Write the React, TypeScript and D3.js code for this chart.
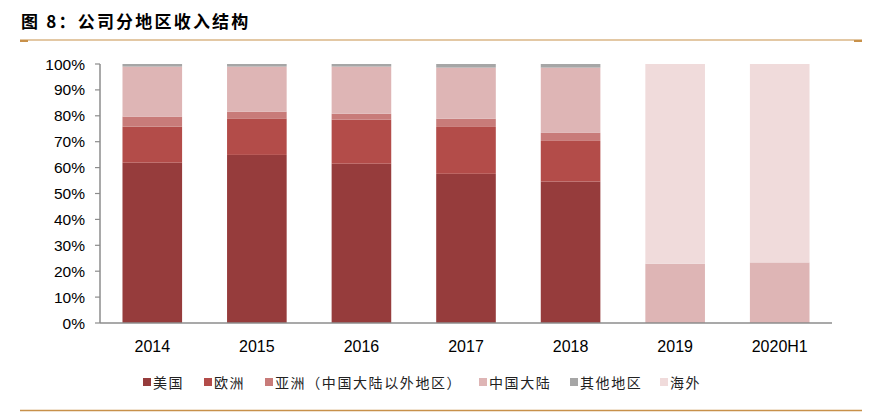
import React from "react";
import * as d3 from "d3";

const years = ["2014", "2015", "2016", "2017", "2018", "2019", "2020H1"];
const usa = [61.9, 64.9, 61.5, 57.6, 54.6, 0, 0];
const europe = [13.9, 14.1, 17.0, 18.1, 15.7, 0, 0];
const asiaExChina = [3.9, 2.6, 2.3, 3.2, 3.1, 0, 0];
const chinaMainland = [19.3, 17.4, 18.2, 19.7, 25.2, 22.9, 23.4];
const otherRegions = [1.0, 1.0, 1.0, 1.4, 1.4, 0, 0];
const overseas = [0, 0, 0, 0, 0, 77.1, 76.6];
const seriesNames = ["美国", "欧洲", "亚洲（中国大陆以外地区）", "中国大陆", "其他地区", "海外"];
const yTicks = [0, 10, 20, 30, 40, 50, 60, 70, 80, 90, 100];
const title = "图 8：公司分地区收入结构";

const colors = ["#963C3C", "#B34C49", "#C87B79", "#DEB5B5", "#A6A6A6", "#F0DBDB"];
const legendX = [143, 204, 265, 479, 570, 660];

export default function App() {
  const W = 882, H = 413;
  const left = 100, right = 832, top = 64, bottom = 323;
  const keys = ["us", "eu", "asia", "cn", "other", "ovs"];
  const cols = [usa, europe, asiaExChina, chinaMainland, otherRegions, overseas];
  const rows = years.map((y, i) => {
    const r: any = { year: y };
    keys.forEach((k, j) => (r[k] = cols[j][i]));
    return r;
  });
  const stacked = d3.stack().keys(keys)(rows);
  const x = d3.scaleBand().domain(years).range([left, right]).paddingInner(0.43).paddingOuter(0.215);
  const y = d3.scaleLinear().domain([0, 100]).range([bottom, top]);
  const axisColor = "#8C8C8C";
  const gold = "#C8914A";

  return (
    <svg width={W} height={H} style={{ position: "absolute", left: 0, top: 0, background: "#fff" }}>
      <text x={21} y={28} fontFamily="'Noto Sans CJK SC', sans-serif" fontWeight={700} fontSize={17} letterSpacing={2.2} fill="#000">
        {title}
      </text>
      <line x1={20} x2={862} y1={40} y2={40} stroke={gold} strokeWidth={1.2} />
      <rect x={20} y={40} width={8} height={2} fill={gold} />
      <rect x={854} y={40} width={8} height={2} fill={gold} />
      <line x1={20} x2={862} y1={410.5} y2={410.5} stroke={gold} strokeWidth={1.5} />

      {stacked.map((s, si) => (
        <g key={si} fill={colors[si]}>
          {s.map((d, i) =>
            d[1] - d[0] > 0 ? (
              <rect
                key={i}
                x={x(years[i])}
                width={x.bandwidth()}
                y={y(d[1])}
                height={y(d[0]) - y(d[1])}
              />
            ) : null
          )}
        </g>
      ))}

      <line x1={left} x2={left} y1={top} y2={bottom} stroke={axisColor} strokeWidth={1.5} />
      {yTicks.map((t) => (
        <g key={t}>
          <line x1={left - 5} x2={left} y1={y(t)} y2={y(t)} stroke={axisColor} strokeWidth={1.2} />
          <text x={85} y={y(t) + 5.5} textAnchor="end" fontFamily="'Liberation Sans', Arial, sans-serif" fontSize={15.5} fill="#000">
            {t + "%"}
          </text>
        </g>
      ))}
      <line x1={left} x2={right} y1={bottom} y2={bottom} stroke={axisColor} strokeWidth={1.5} />
      {years.map((yr) => (
        <text key={yr} x={(x(yr) as number) + x.bandwidth() / 2} y={352} textAnchor="middle" fontFamily="'Liberation Sans', Arial, sans-serif" fontSize={16} fill="#000">
          {yr}
        </text>
      ))}

      {seriesNames.map((n, i) => (
        <g key={n}>
          <rect x={legendX[i]} y={378} width={8} height={8} fill={colors[i]} />
          <text x={legendX[i] + 10} y={388} fontFamily="'Noto Sans CJK SC', serif" fontSize={14} letterSpacing={1.6} fill="#222">
            {n}
          </text>
        </g>
      ))}
    </svg>
  );
}
